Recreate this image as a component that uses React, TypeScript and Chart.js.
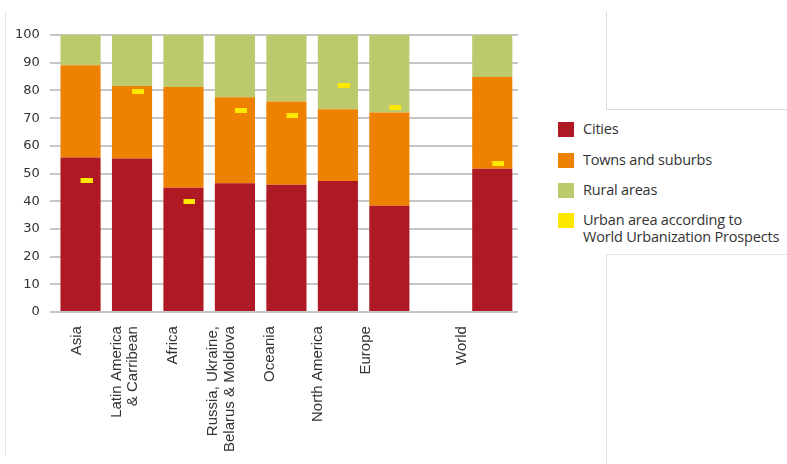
import React, { useEffect, useRef } from 'react';
import { Chart, registerables } from 'chart.js';

Chart.register(...registerables);

const categories: (string | string[])[] = [
  'Asia',
  ['Latin America', '& Carribean'],
  'Africa',
  ['Russia, Ukraine,', 'Belarus & Moldova'],
  'Oceania',
  'North America',
  'Europe',
  '',
  'World',
];
const cities = [55.8, 55.4, 44.9, 46.5, 46.0, 47.3, 38.4, null, 51.7];
const towns = [33.3, 26.2, 36.3, 31.0, 30.0, 25.9, 33.6, null, 33.1];
const rural = [10.9, 18.4, 18.8, 22.5, 24.0, 26.8, 28.0, null, 15.2];
const urbanWUP = [47.5, 79.7, 40.0, 72.6, 70.8, 81.6, 73.8, null, 53.5];
const yTickValues = [0, 10, 20, 30, 40, 50, 60, 70, 80, 90, 100];

const seriesNames = ['Cities', 'Towns and suburbs', 'Rural areas'];
const legendNames: (string | string[])[] = [
  'Cities',
  'Towns and suburbs',
  'Rural areas',
  ['Urban area according to', 'World Urbanization Prospects'],
];

const COLORS = ['#AE1924', '#EE8100', '#BCC96D', '#FFE800'];
const LINE_SHIFT = 0.17;

function makeMarker(): HTMLCanvasElement {
  const c = document.createElement('canvas');
  c.width = 24;
  c.height = 5;
  const ctx = c.getContext('2d')!;
  ctx.fillStyle = COLORS[3];
  ctx.fillRect(12, 0, 12, 5);
  return c;
}

function ChartView() {
  const ref = useRef<HTMLCanvasElement | null>(null);
  useEffect(() => {
    if (!ref.current) return;
    const marker = makeMarker();
    const labelIdx: number[] = [];
    categories.forEach((c, i) => {
      if (c !== '') labelIdx.push(i);
    });
    const chart = new Chart(ref.current, {
      type: 'bar',
      data: {
        labels: categories.map((c) => (Array.isArray(c) ? c.join(' ') : c)),
        datasets: [
          {
            type: 'line',
            label: 'Urban area according to World Urbanization Prospects',
            data: urbanWUP,
            showLine: false,
            pointStyle: marker,
            pointRadius: 6,
            pointHoverRadius: 6,
            stack: 'wup',
            order: 0,
            xAxisID: 'x',
            yAxisID: 'y',
          } as any,
          { label: seriesNames[0], data: cities, backgroundColor: COLORS[0], order: 1, stack: 's', xAxisID: 'x' },
          { label: seriesNames[1], data: towns, backgroundColor: COLORS[1], order: 1, stack: 's', xAxisID: 'x' },
          { label: seriesNames[2], data: rural, backgroundColor: COLORS[2], order: 1, stack: 's', xAxisID: 'x' },
        ],
      },
      options: {
        responsive: false,
        animation: false,
        events: [],
        datasets: { bar: { categoryPercentage: 1, barPercentage: 0.78 } },
        layout: { padding: { left: 5, right: 22, top: 35, bottom: 0 } },
        plugins: { legend: { display: false }, tooltip: { enabled: false } },
        scales: {
          x: { display: false, stacked: true, offset: true },
          x2: {
            type: 'linear',
            position: 'bottom',
            bounds: 'data',
            offset: false,
            min: -0.457,
            max: 9.164,
            grid: { display: false, drawTicks: false, offset: false },
            border: { display: false },
            afterBuildTicks: (scale: any) => {
              scale.ticks = labelIdx.map((i) => {
                const c = categories[i];
                const lines = Array.isArray(c) ? c.length : 1;
                return { value: i - (lines - 1) * LINE_SHIFT };
              });
            },
            ticks: {
              autoSkip: false,
              minRotation: 90,
              maxRotation: 90,
              padding: 14,
              color: '#333',
              font: { family: 'Liberation Sans, Arial, sans-serif', size: 15, lineHeight: 1.1 },
              callback: (_v: any, index: number) => categories[labelIdx[index]] as any,
            },
          } as any,
          y: {
            stacked: true,
            min: 0,
            max: 100,
            afterBuildTicks: (scale: any) => {
              scale.ticks = yTickValues.map((v) => ({ value: v }));
            },
            grid: { color: '#c6c6c6', lineWidth: 2, tickLength: 5 },
            border: { display: false },
            ticks: {
              padding: 10,
              color: '#333',
              font: { family: 'DejaVu Sans, Verdana, sans-serif', size: 13 },
            },
          },
        },
      },
    });
    return () => chart.destroy();
  }, []);
  return <canvas ref={ref} width={540} height={466} style={{ position: 'absolute', left: 0, top: 0 }} />;
}

export default function App() {
  const rowTops = [120, 151, 181, 211];
  return (
    <div style={{ position: 'fixed', left: 0, top: 0, width: 787, height: 464, background: '#fff', overflow: 'hidden' }}>
      <div style={{ position: 'absolute', left: 5, top: 11, width: 1, height: 444, background: '#e4e4e4' }} />
      <div style={{ position: 'absolute', left: 606, top: 11, width: 1, height: 98, background: '#dcdcdc' }} />
      <div style={{ position: 'absolute', left: 606, top: 109, width: 181, height: 1, background: '#dcdcdc' }} />
      <div style={{ position: 'absolute', left: 606, top: 254, width: 181, height: 1, background: '#e4e4e4' }} />
      <div style={{ position: 'absolute', left: 606, top: 254, width: 1, height: 210, background: '#e4e4e4' }} />
      <ChartView />
      {legendNames.map((name, i) => (
        <div key={i} style={{ position: 'absolute', left: 558, top: rowTops[i], display: 'flex', alignItems: 'flex-start' }}>
          <div style={{ width: 16, height: 15, background: COLORS[i], marginTop: 2, flex: 'none' }} />
          <div
            style={{
              marginLeft: 9,
              fontFamily: '"Open Sans", "Noto Sans", sans-serif',
              fontSize: 14.5,
              lineHeight: '17px',
              color: '#333',
              whiteSpace: 'nowrap',
              letterSpacing: -0.2,
            }}
          >
            {Array.isArray(name) ? name.map((l, j) => <div key={j}>{l}</div>) : name}
          </div>
        </div>
      ))}
    </div>
  );
}
